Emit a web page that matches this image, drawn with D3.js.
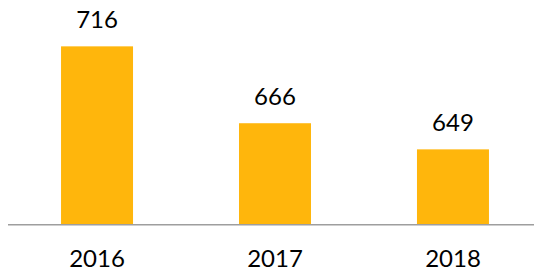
<!DOCTYPE html>
<html>
<head>
<meta charset="utf-8">
<script src="https://cdn.jsdelivr.net/npm/d3@7"></script>
<style>
  body { margin: 0; background: #fff; }
  svg { display: block; }
</style>
</head>
<body>
<svg id="chart" width="534" height="273"></svg>
<script>
var years = ['2016', '2017', '2018']
var values = [716, 666, 649]

var svg = d3.select('svg#chart')
var width = 534
var baseY = 224.7

var x = d3.scaleBand()
  .domain(years)
  .range([8, 542])
  .paddingInner(0.5955)
  .paddingOuter(0.298)

var y = d3.scaleLinear()
  .domain([600, 720])
  .range([baseY, baseY - 120 * 1.5375])

// bars
svg.selectAll('rect.bar')
  .data(values)
  .enter()
  .append('rect')
  .attr('class', 'bar')
  .attr('x', (d, i) => x(years[i]))
  .attr('y', d => y(d))
  .attr('width', x.bandwidth())
  .attr('height', d => baseY - y(d))
  .attr('fill', '#FFB60C')

// axis line along the bottom
var axis = svg.append('g')
  .attr('transform', 'translate(0,' + baseY + ')')
  .call(d3.axisBottom(x).tickSize(0).tickPadding(0))
axis.select('.domain')
  .attr('d', 'M8,0H534')
  .attr('stroke', '#9e9e9e')
  .attr('stroke-width', 1.5)
axis.selectAll('text')
  .attr('dy', 0)
  .attr('y', 42.5)
  .attr('fill', '#000')
  .style('font-family', 'Lato, "Open Sans", sans-serif')
  .style('font-size', '24px')

// value labels
svg.selectAll('text.val')
  .data(values)
  .enter()
  .append('text')
  .attr('class', 'val')
  .attr('x', (d, i) => x(years[i]) + x.bandwidth() / 2)
  .attr('y', d => y(d) - 18)
  .attr('text-anchor', 'middle')
  .attr('fill', '#000')
  .style('font-family', 'Lato, "Open Sans", sans-serif')
  .style('font-size', '24px')
  .text(d => d)
</script>
</body>
</html>
